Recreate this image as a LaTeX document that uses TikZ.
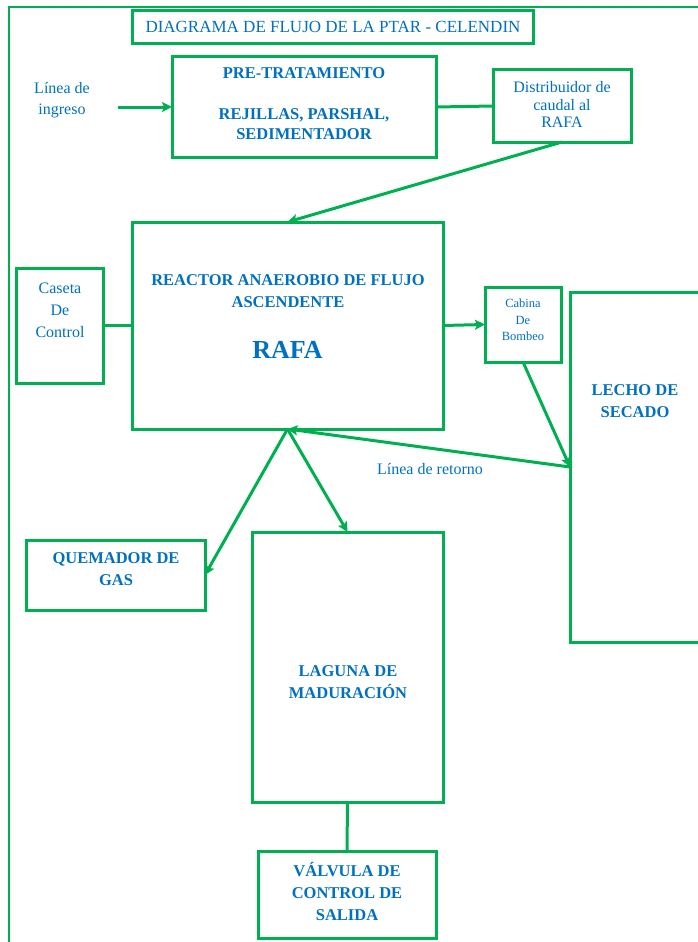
\documentclass[tikz,border=0pt]{standalone}
\usepackage{fontspec}
\setmainfont{Liberation Serif}
\usetikzlibrary{arrows.meta,calc}
\definecolor{gr}{HTML}{00B050}
\definecolor{bl}{HTML}{0070C0}
\tikzset{
  box/.style={draw=gr, line width=3pt, inner sep=0pt, outer sep=0pt, fill=white},
  txt/.style={text=bl, align=center, inner sep=0pt, font=\fontsize{16}{21}\selectfont},
  btxt/.style={text=bl, align=center, inner sep=0pt, font=\fontsize{16.5}{22}\selectfont\bfseries},
  conn/.style={draw=gr, line width=3pt},
  arr/.style={conn, -{Stealth[length=10pt,width=10pt,inset=2pt]}},
  frame/.style={draw=gr, line width=2pt}
}
\begin{document}
\begin{tikzpicture}[x=1pt,y=-1pt]
\useasboundingbox (0,0) rectangle (698,942);
% outer frame
\coordinate (fr1) at (710,7);
\coordinate (fr2) at (9,7);
\coordinate (fr3) at (9,950);
\draw[frame] (fr1) -- (fr2) -- (fr3);

% boxes
\node[box, minimum width=401pt, minimum height=33pt] (title) at (332.5,27.5) {};
\node[box, minimum width=264pt, minimum height=100pt] (pre) at (304,107) {};
\node[box, minimum width=138pt, minimum height=72pt] (dist) at (562,106) {};
\node[box, minimum width=311pt, minimum height=207pt] (rafa) at (287.5,325.5) {};
\node[box, minimum width=87pt, minimum height=115pt] (caseta) at (59.5,325.5) {};
\node[box, minimum width=76pt, minimum height=75pt] (cabina) at (523,324.5) {};
\node[box, minimum width=140pt, minimum height=350pt] (lecho) at (640,467) {};
\node[box, minimum width=179pt, minimum height=70pt] (quem) at (115.5,575) {};
\node[box, minimum width=191pt, minimum height=270pt] (laguna) at (347.5,667) {};
\node[box, minimum width=178pt, minimum height=87pt] (valv) at (347,894.5) {};

% texts
\node[txt, font=\fontsize{17}{21}\selectfont] (ttitle) at (333,27) {DIAGRAMA DE FLUJO DE LA PTAR - CELENDIN};
\node[txt] (tingreso) at (62,100.5) {Línea de\\ingreso};
\node[btxt, font=\fontsize{16.5}{20.5}\selectfont\bfseries] (tpre) at (304,103.5) {PRE-TRATAMIENTO\\[0pt]\mbox{}\\REJILLAS, PARSHAL,\\SEDIMENTADOR};
\node[txt, font=\fontsize{16}{17.5}\selectfont] (tdist) at (562,104.5) {Distribuidor de\\caudal al\\RAFA};
\node[txt, font=\fontsize{16}{22}\selectfont] (tcaseta) at (60,310) {Caseta\\De\\Control};
\node[btxt] (trafa) at (288,291) {REACTOR ANAEROBIO DE FLUJO\\ASCENDENTE};
\node[btxt, font=\fontsize{26}{28}\selectfont\bfseries] (trafa2) at (287.5,350) {RAFA};
\node[txt, font=\fontsize{12.5}{16.5}\selectfont] (tcabina) at (523,320) {Cabina\\De\\Bombeo};
\node[btxt] (tlecho) at (635,401) {LECHO DE\\SECADO};
\node[txt] (tretorno) at (430,469) {Línea de retorno};
\node[btxt] (tquem) at (116,569) {QUEMADOR DE\\GAS};
\node[btxt] (tlaguna) at (348,682) {LAGUNA DE\\MADURACIÓN};
\node[btxt] (tvalv) at (347,891.5) {VÁLVULA DE\\CONTROL DE\\SALIDA};

% connectors
\coordinate (ingreso) at (118,107);
\draw[arr] (ingreso) -- (pre.west);
\draw[conn] (pre.east) -- (dist.west);
\draw[arr] (dist.south) -- (rafa.north);
\draw[conn] (caseta.east) -- (rafa.west);
\draw[arr] (rafa.east) -- (cabina.west);
\draw[arr] (cabina.south) -- (lecho.west);
\draw[arr] (lecho.west) -- (rafa.south);
\draw[arr] (rafa.south) -- (quem.east);
\draw[arr] (rafa.south) -- (laguna.north);
\draw[conn] (laguna.south) -- (valv.north);
\end{tikzpicture}
\end{document}
